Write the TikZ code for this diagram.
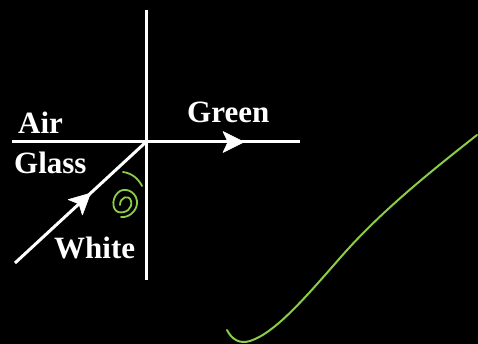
\documentclass[tikz,border=0pt]{standalone}
\usepackage{fontspec}
\setmainfont{Liberation Serif}
\definecolor{pen}{RGB}{140,205,70}
\tikzset{
  ray/.style={draw=white,line width=3pt},
  headfill/.style={fill=white,draw=white,line width=0.6pt,line join=round},
  lbl/.style={text=white,font=\bfseries\fontsize{31}{31}\selectfont,inner sep=0pt},
  greenink/.style={draw=pen,line width=1.8pt,line cap=round,line join=round}
}
\begin{document}
\begin{tikzpicture}[x=1pt,y=-1pt]
\fill[black] (0,0) rectangle (478,344);
\useasboundingbox (0,0) rectangle (478,344);
\coordinate (vt) at (146,10);
\coordinate (vb) at (146,280);
\coordinate (hl) at (12,142);
\coordinate (hr) at (300,142);
\coordinate (o) at (146,142);
\coordinate (src) at (15,263);
\draw[ray] (vt) -- (vb);
\draw[ray] (hl) -- (o);
\draw[ray] (o) -- (hr);
\draw[ray] (src) -- (o);
% arrowheads
\fill[headfill] (244,142) -- (223,131.5) -- (228,142) -- (223,152.5) -- cycle;
\fill[headfill] (90.5,193.2) -- (82.4,215.0) -- (79.0,203.9) -- (68.2,199.6) -- cycle;
\node[lbl,anchor=base west] (air) at (18,134) {Air};
\node[lbl,anchor=base west] (green) at (187,123) {Green};
\node[lbl,anchor=base west] (glass) at (14,174) {Glass};
\node[lbl,anchor=base west] (white) at (54,258) {White};
% angle arc
\draw[greenink] (123,172) .. controls (131,173) and (138,178) .. (142,186);
% theta
\draw[greenink] (120,205) .. controls (120,197) and (129,194) .. (131,201)
  .. controls (133,208) and (126,214) .. (118,212)
  .. controls (111,209) and (112,196) .. (120,191)
  .. controls (128,187) and (138,194) .. (137,204)
  .. controls (136,212) and (128,218) .. (121,217);
% long curve
\draw[greenink,line width=2pt] (227,330) .. controls (232,340) and (240,344) .. (250,341)
  .. controls (275,333) and (305,298) .. (340,258)
  .. controls (380,212) and (430,172) .. (477,135);
\end{tikzpicture}
\end{document}
